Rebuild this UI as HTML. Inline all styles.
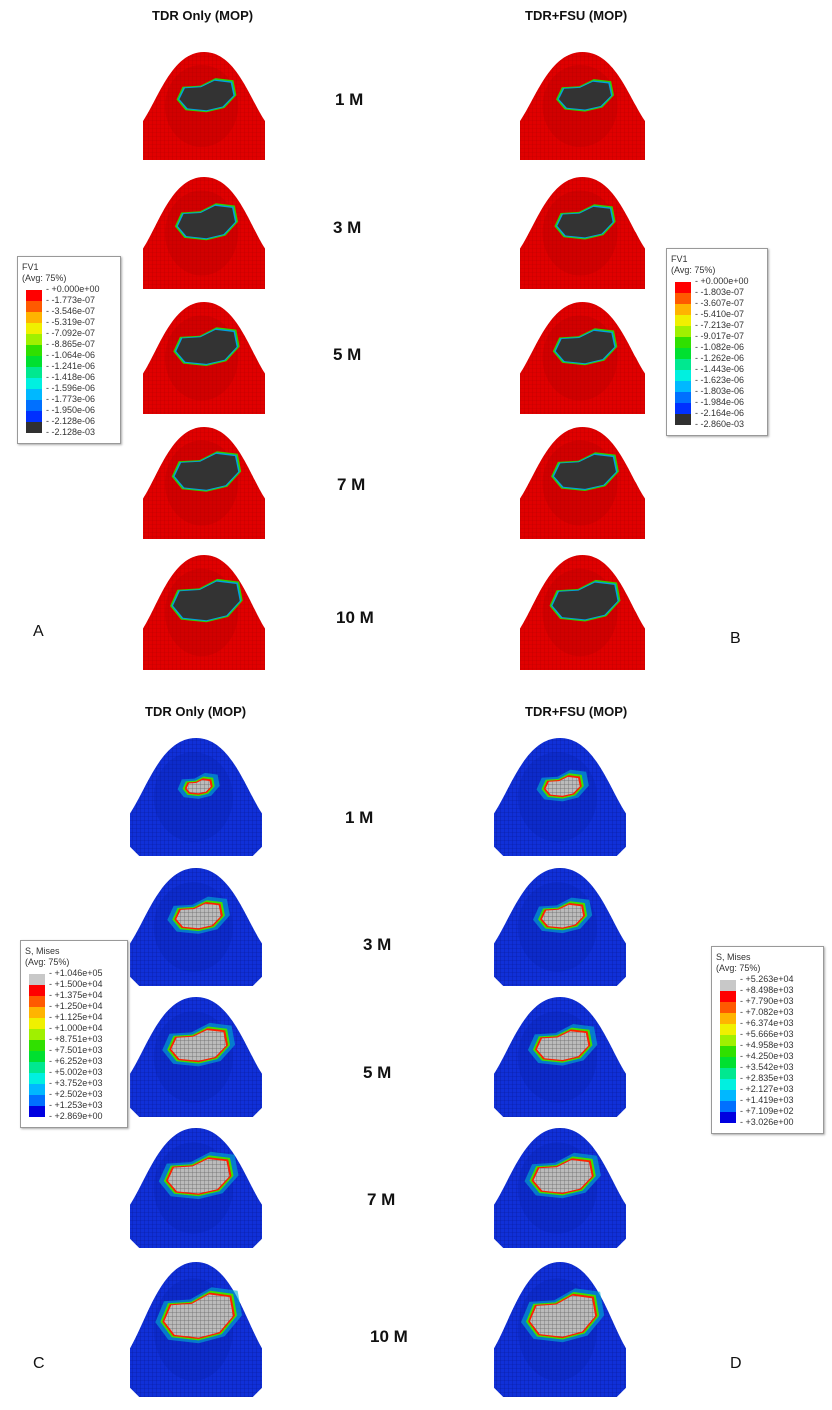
<!DOCTYPE html>
<html><head><meta charset="utf-8"><style>
body{margin:0;background:#fff;width:832px;height:1410px;position:relative;overflow:hidden;font-family:"Liberation Sans",sans-serif}
.t{position:absolute;font-weight:bold;font-size:13px;color:#111;white-space:nowrap}
.m{position:absolute;font-weight:bold;font-size:17px;color:#111;white-space:nowrap}
.l{position:absolute;font-size:16px;color:#111}
.leg{position:absolute;border:1px solid #999;background:#fff;box-shadow:1px 1px 2px #aaa;font-size:9px;color:#333;line-height:11px;padding:5px 4px}
.leg .row{position:relative;height:11px;padding-left:24px;white-space:nowrap}
.leg .sw{position:absolute;left:4px;top:6px;width:16px;height:11px}
svg{position:absolute;left:0;top:0}
</style></head><body>
<svg id="fig" width="832" height="1410">
<defs>
<pattern id="meshR" width="4" height="4" patternUnits="userSpaceOnUse"><path d="M0 0H4M0 0V4" stroke="#8a0000" stroke-width="0.6" opacity="0.5"/></pattern>
<pattern id="meshB" width="4" height="4" patternUnits="userSpaceOnUse"><path d="M0 0H4M0 0V4" stroke="#000050" stroke-width="0.6" opacity="0.5"/></pattern>
<pattern id="meshG" width="4" height="4" patternUnits="userSpaceOnUse"><rect width="4" height="4" fill="#bbb"/><path d="M0 0H4M0 0V4" stroke="#666" stroke-width="0.7"/></pattern>
</defs>
</svg>

<div class="t" style="left:152px;top:8px">TDR Only (MOP)</div>
<div class="t" style="left:525px;top:8px">TDR+FSU (MOP)</div>
<div class="t" style="left:145px;top:704px">TDR Only (MOP)</div>
<div class="t" style="left:525px;top:704px">TDR+FSU (MOP)</div>

<div class="m" style="left:335px;top:90px">1 M</div>
<div class="m" style="left:333px;top:218px">3 M</div>
<div class="m" style="left:333px;top:345px">5 M</div>
<div class="m" style="left:337px;top:475px">7 M</div>
<div class="m" style="left:336px;top:608px">10 M</div>
<div class="m" style="left:345px;top:808px">1 M</div>
<div class="m" style="left:363px;top:935px">3 M</div>
<div class="m" style="left:363px;top:1063px">5 M</div>
<div class="m" style="left:367px;top:1190px">7 M</div>
<div class="m" style="left:370px;top:1327px">10 M</div>

<div class="l" style="left:33px;top:623px">A</div>
<div class="l" style="left:730px;top:630px">B</div>
<div class="l" style="left:33px;top:1355px">C</div>
<div class="l" style="left:730px;top:1355px">D</div>

<div id="legA" class="leg" style="left:17px;top:256px;width:94px"></div>
<div id="legB" class="leg" style="left:666px;top:248px;width:92px"></div>
<div id="legC" class="leg" style="left:20px;top:940px;width:98px"></div>
<div id="legD" class="leg" style="left:711px;top:946px;width:103px"></div>

<script>
const fvColors=["#ff0000","#ff5a00","#ffb400","#f0f000","#a0f000","#30e000","#00e030","#00e890","#00f0e0","#00b8ff","#0070ff","#0030ff","#303030"];
const misesColors=["#c8c8c8","#ff0000","#ff5a00","#ffb400","#f0f000","#a0f000","#30e000","#00e030","#00e890","#00f0e0","#00b8ff","#0070ff","#0000e0"];
const legAVals=["+0.000e+00","-1.773e-07","-3.546e-07","-5.319e-07","-7.092e-07","-8.865e-07","-1.064e-06","-1.241e-06","-1.418e-06","-1.596e-06","-1.773e-06","-1.950e-06","-2.128e-06","-2.128e-03"];
const legBVals=["+0.000e+00","-1.803e-07","-3.607e-07","-5.410e-07","-7.213e-07","-9.017e-07","-1.082e-06","-1.262e-06","-1.443e-06","-1.623e-06","-1.803e-06","-1.984e-06","-2.164e-06","-2.860e-03"];
const legCVals=["+1.046e+05","+1.500e+04","+1.375e+04","+1.250e+04","+1.125e+04","+1.000e+04","+8.751e+03","+7.501e+03","+6.252e+03","+5.002e+03","+3.752e+03","+2.502e+03","+1.253e+03","+2.869e+00"];
const legDVals=["+5.263e+04","+8.498e+03","+7.790e+03","+7.082e+03","+6.374e+03","+5.666e+03","+4.958e+03","+4.250e+03","+3.542e+03","+2.835e+03","+2.127e+03","+1.419e+03","+7.109e+02","+3.026e+00"];
function buildLeg(id,title,vals,cols){
  const el=document.getElementById(id);
  let h='<div>'+title+'</div><div>(Avg: 75%)</div><div style="position:relative">';
  vals.forEach((v,i)=>{h+='<div class="row">'+(i<cols.length?'<div class="sw" style="background:'+cols[i]+'"></div>':'')+'- '+v+'</div>';});
  el.innerHTML=h+'</div>';
}
buildLeg('legA','FV1',legAVals,fvColors);
buildLeg('legB','FV1',legBVals,fvColors);
buildLeg('legC','S, Mises',legCVals,misesColors);
buildLeg('legD','S, Mises',legDVals,misesColors);

const NS="http://www.w3.org/2000/svg";
const svg=document.getElementById('fig');
function mk(tag,attrs){const e=document.createElementNS(NS,tag);for(const k in attrs)e.setAttribute(k,attrs[k]);svg.appendChild(e);return e;}
const topLeft=[[143,52,122,108],[143,177,122,112],[143,302,122,112],[143,427,122,112],[143,555,122,115]];
const topRight=[[520,52,125,108],[520,177,125,112],[520,302,125,112],[520,427,125,112],[520,555,125,115]];
const botLeft=[[130,738,132,118],[130,868,132,118],[130,997,132,120],[130,1128,132,120],[130,1262,132,135]];
const botRight=[[494,738,132,118],[494,868,132,118],[494,997,132,120],[494,1128,132,120],[494,1262,132,135]];
const growthA=[0.85,0.9,0.95,1.0,1.05];
const growthB=[0.8,0.85,0.9,0.95,1.0];
const growthC=[0.35,0.65,0.8,0.9,1.0];
const growthD=[0.5,0.6,0.75,0.85,0.95];
function shapePath(x,y,w,h,chamfer){
  const c=chamfer?w*0.07:0;
  return `M${x+c},${y+h} L${x},${y+h-c} L${x},${y+h*0.64} C${x+w*0.13},${y+h*0.42} ${x+w*0.24},${y} ${x+w*0.5},${y} C${x+w*0.76},${y} ${x+w*0.87},${y+h*0.42} ${x+w},${y+h*0.64} L${x+w},${y+h-c} L${x+w-c},${y+h} Z`;
}
function blob(cx,cy,rx,ry){
  const p=[[-1,0.1],[-0.8,-0.5],[-0.2,-0.55],[0.3,-0.9],[0.9,-0.8],[1,-0.1],[0.6,0.5],[0,0.7],[-0.7,0.6]];
  let d='';p.forEach((q,i)=>{d+=(i?'L':'M')+(cx+q[0]*rx).toFixed(1)+','+(cy+q[1]*ry).toFixed(1);});
  return d+'Z';
}
function drawPanel(boxes,growth,kind,name){
  boxes.forEach((b,i)=>{
    const [x,y,w,h]=b;const g=growth[i];
    const base=kind==='fv'?'#e00000':'#1030d8';
    let s=mk('path',{d:shapePath(x,y,w,h,kind!=='fv'),fill:base});
    
    
    mk('path',{d:shapePath(x,y,w,h,kind!=='fv'),fill:kind==='fv'?'url(#meshR)':'url(#meshB)'});
    mk('ellipse',{cx:x+w*0.48,cy:y+h*0.5,rx:w*0.3,ry:h*0.38,fill:kind==='fv'?'#b00000':'#0820a8',opacity:0.3});
    const cx=x+w*0.52,cy=y+h*0.42,rx=w*0.26*g,ry=h*0.2*g;
    if(kind==='fv'){
      mk('path',{d:blob(cx,cy,rx+3,ry+3),fill:'#30d000'});
      mk('path',{d:blob(cx,cy,rx+1.5,ry+1.5),fill:'#00a0e0'});
      mk('path',{d:blob(cx,cy,rx,ry),fill:'#333'});
    }else{
      mk('path',{d:blob(cx,cy,rx+9,ry+8),fill:'#00b0d0',opacity:0.6});
      mk('path',{d:blob(cx,cy,rx+4,ry+4),fill:'#40e000'});
      mk('path',{d:blob(cx,cy,rx+2,ry+2),fill:'#ff2000'});
      mk('path',{d:blob(cx,cy,rx,ry),fill:'url(#meshG)'});
    }
  });
}
drawPanel(topLeft,growthA,'fv','panel-a');
drawPanel(topRight,growthB,'fv','panel-b');
drawPanel(botLeft,growthC,'mises','panel-c');
drawPanel(botRight,growthD,'mises','panel-d');
</script>
</body></html>
